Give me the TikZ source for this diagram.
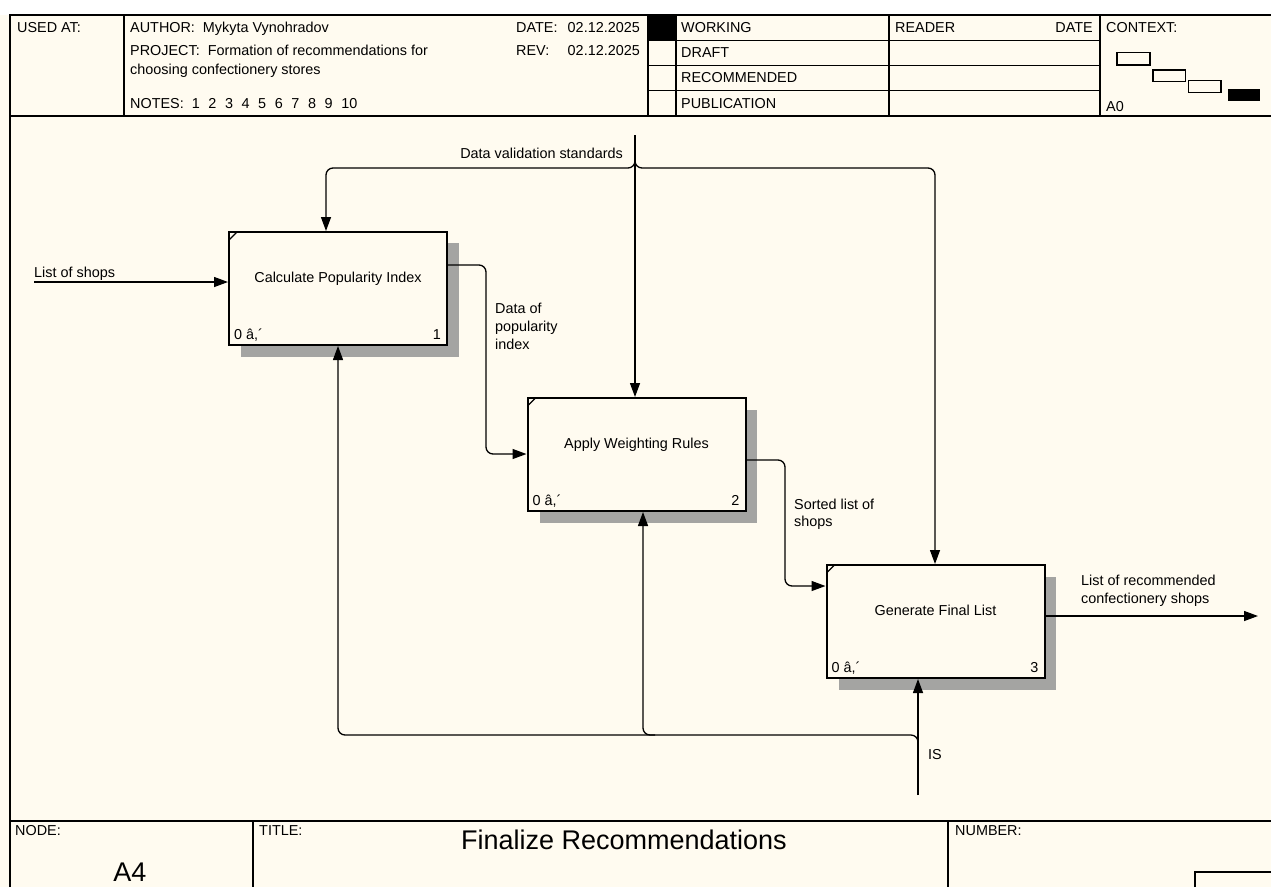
\documentclass[tikz,border=0pt]{standalone}
\usepackage{fontspec}
\setmainfont{Liberation Sans}
\usetikzlibrary{arrows.meta,calc}
\definecolor{cream}{HTML}{FFFBF0}
\definecolor{shadowgray}{HTML}{A4A4A2}
\begin{document}
\begin{tikzpicture}[x=1pt,y=-1pt,
  font=\fontsize{14.4}{18}\selectfont,
  txt/.style={anchor=base west,inner sep=0pt},
  txte/.style={anchor=base east,inner sep=0pt},
  txtc/.style={anchor=base,inner sep=0pt},
  frame/.style={line width=1.2pt},
  proc/.style={draw,line width=2pt,fill=cream,minimum width=218pt,minimum height=113pt,inner sep=0pt},
  arr/.style={line width=1.3pt,-{Triangle[length=14pt,width=10pt]}},
  boxshadow/.style={fill=shadowgray}]
\useasboundingbox (0,0) rectangle (1271,887);
\fill[white] (0,0) rectangle (1271,887);
\fill[cream] (0,15) rectangle (1271,887);
% header frame
\draw[frame] (10,887) -- (10,15) -- (1271,15);
\draw[line width=2pt] (10,116) -- (1271,116);
\foreach \x in {124,648,676,889,1100} \draw[frame] (\x,15) -- (\x,116);
\foreach \y in {40.5,65.5,90.5} \draw[frame] (648,\y) -- (1100,\y);
\fill (648,15) rectangle (676,40.5);
% header text
\node[txt] (usedat) at (17,32) {USED AT:};
\node[txt] (author) at (130,32) {AUTHOR:\ \ Mykyta Vynohradov};
\node[txt] (project) at (130,55) {PROJECT:\ \ Formation of recommendations for};
\node[txt] (project2) at (130,74) {choosing confectionery stores};
\node[txt] (notes) at (130,108) {NOTES:\ \ 1\hspace{8.6pt}2\hspace{8.6pt}3\hspace{8.6pt}4\hspace{8.6pt}5\hspace{8.6pt}6\hspace{8.6pt}7\hspace{8.6pt}8\hspace{8.6pt}9\hspace{8.6pt}10};
\node[txt] (datel) at (516,32) {DATE:};
\node[txte] (datev) at (640,32) {02.12.2025};
\node[txt] (revl) at (516,55) {REV:};
\node[txte] (revv) at (640,55) {02.12.2025};
\node[txt] (working) at (681,32) {WORKING};
\node[txt] (draft) at (681,57) {DRAFT};
\node[txt] (recom) at (681,82) {RECOMMENDED};
\node[txt] (publ) at (681,108) {PUBLICATION};
\node[txt] (reader) at (895,32) {READER};
\node[txte] (rdate) at (1093,32) {DATE};
\node[txt] (context) at (1106,32) {CONTEXT:};
\node[txt] (a0) at (1106,111) {A0};
\draw[line width=1.2pt] (1117,52.5) rectangle (1150,65);
\draw[line width=1.2pt] (1153,70) rectangle (1185.5,81.5);
\draw[line width=1.2pt] (1188.5,80.5) rectangle (1221,92.5);
\fill (1227.5,89) rectangle (1259.5,101);
% footer
\draw[line width=2pt] (10,821) -- (1271,821);
\draw[frame] (253,821) -- (253,887);
\draw[frame] (948,821) -- (948,887);
\draw[frame] (1195,887) -- (1195,872) -- (1271,872);
\node[txt] (nodel) at (15,835) {NODE:};
\node[txtc,font=\fontsize{27}{30}\selectfont] (nodev) at (130,881) {A4};
\node[txt] (titlel) at (259,835) {TITLE:};
\node[txtc,font=\fontsize{27}{30}\selectfont] (titlev) at (624,849) {Finalize Recommendations};
\node[txt] (numl) at (955,835) {NUMBER:};
% shadows
\path[boxshadow] (241,243) rectangle (459,357);
\path[boxshadow] (540,410) rectangle (757,523);
\path[boxshadow] (839,577) rectangle (1056,690);
% boxes
\node[proc] (b1) at (338,288.5) {};
\node[proc] (b2) at (636.5,454.5) {};
\node[proc] (b3) at (935.5,621.5) {};
\foreach \b/\n/\t in {b1/1/Calculate Popularity Index,b2/2/Apply Weighting Rules,b3/3/Generate Final List}{
  \node[txtc] (\b t) at ($(\b.north)+(0,51)$) {\t};
  \node[txt] (\b c) at ($(\b.south west)+(6,-7)$) {0 â,´};
  \node[txte] (\b n) at ($(\b.south east)+(-7,-7)$) {\n};
  \draw[line width=1.2pt] ($(\b.north west)+(1,9)$) -- ($(\b.north west)+(9,1)$);
}
% connectors
\coordinate (inL) at (34,282);
\node[txt] (lshops) at (34,277) {List of shops};
\draw[arr] (inL) -- (inL -| b1.west);
\coordinate (ctop) at (635,135);
\draw[arr] (ctop) -- (ctop |- b2.north);
\draw[arr,rounded corners=7pt] (635,158) |- (326,168) -- (326,168 |- b1.north);
\draw[arr,rounded corners=7pt] (635,158) |- (935,168) -- (935,168 |- b3.north);
\node[txte] (ldvs) at (623,158) {Data validation standards};
\draw[arr,rounded corners=7pt] (b1.east |- 0,265) -- (486,265) -- (486,454) -- (b2.west |- 0,454);
\node[txt] (ld1) at (495,313) {Data of};
\node[txt] (ld2) at (495,331) {popularity};
\node[txt] (ld3) at (495,349) {index};
\draw[arr,rounded corners=7pt] (b2.east |- 0,460) -- (785,460) -- (785,586) -- (b3.west |- 0,586);
\node[txt] (ls1) at (794,509) {Sorted list of};
\node[txt] (ls2) at (794,526) {shops};
\coordinate (out) at (1258,616);
\draw[arr] (b3.east |- out) -- (out);
\node[txt] (lo1) at (1081,585) {List of recommended};
\node[txt] (lo2) at (1081,603) {confectionery shops};
\coordinate (mbot) at (918,795);
\draw[arr] (mbot) -- (mbot |- b3.south);
\draw[arr,rounded corners=7pt] (918,760) |- (338,735) -- (b1.south);
\draw[arr,rounded corners=7pt] (655,735) -- (643,735) -- (643,0 |- b2.south);
\node[txt] (lis) at (928,759) {IS};
\end{tikzpicture}
\end{document}
